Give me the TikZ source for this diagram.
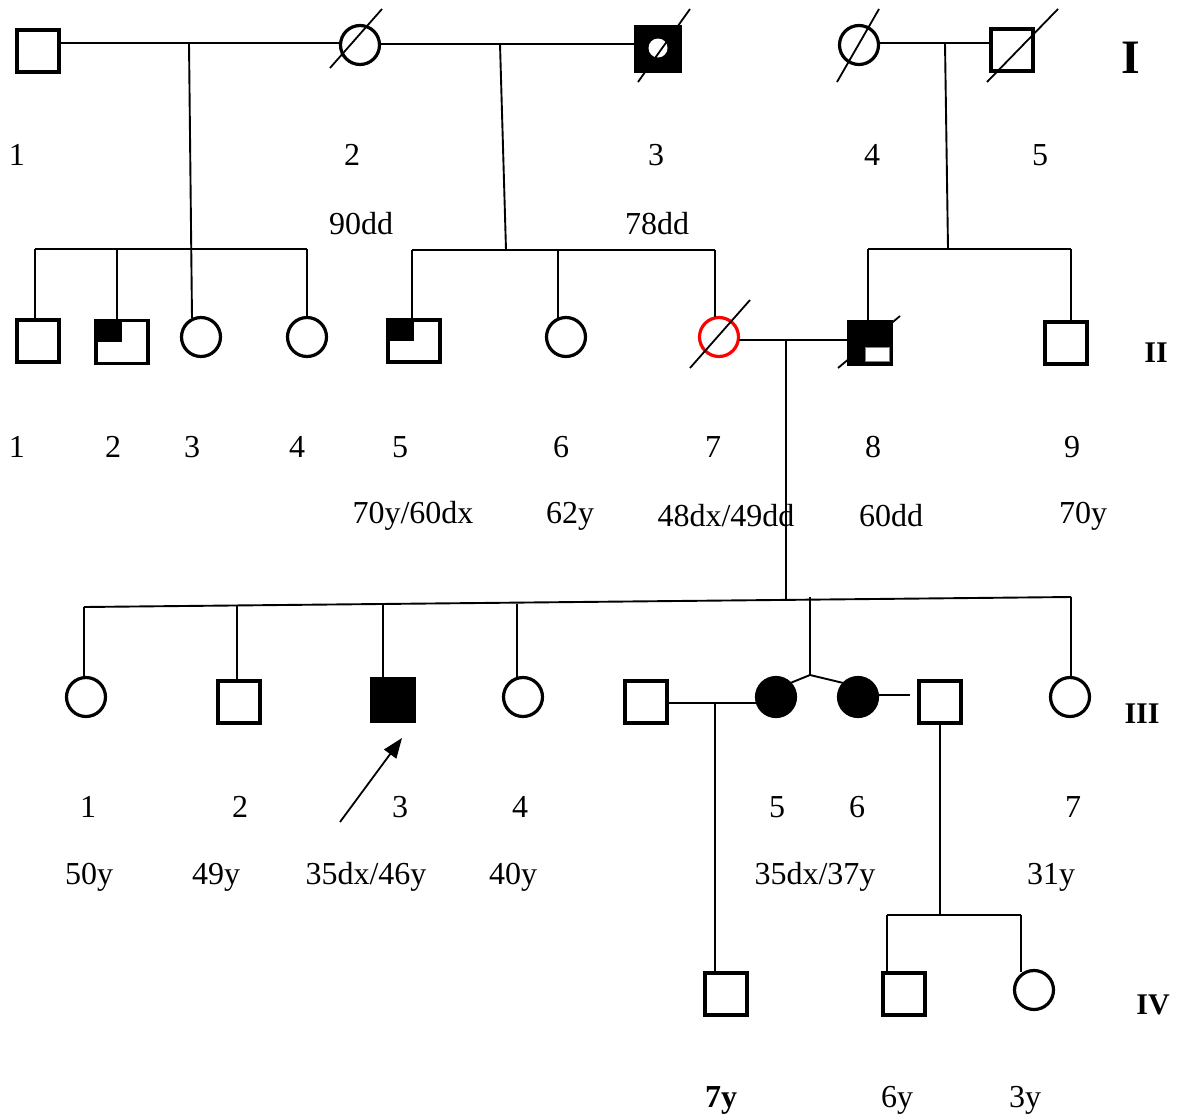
\documentclass[tikz,border=0pt]{standalone}
\usepackage{fontspec}
\setmainfont{Liberation Serif}
\usetikzlibrary{arrows.meta, calc}
\definecolor{pedred}{HTML}{FF0000}

\begin{document}
\begin{tikzpicture}[x=1pt, y=-1pt,
  male/.style={draw, rectangle, line width=3.2pt, minimum size=42pt, inner sep=0pt, outer sep=0pt},
  female/.style={draw, circle, line width=3.2pt, minimum size=39pt, inner sep=0pt, outer sep=0pt},
  affected/.style={fill=black},
  link/.style={line width=1.9pt},
  slash/.style={line width=1.8pt},
  pointer/.style={-{Triangle[length=20pt, width=15pt]}, line width=1.8pt},
  lbl/.style={font=\fontsize{32}{38}\selectfont, inner sep=0pt},
  gen/.style={font=\fontsize{30}{36}\selectfont\bfseries, inner sep=0pt}]
  \useasboundingbox (0,0) rectangle (1177,1119);

  % generation I
  \node[male] (i1) at (38,51) {};
  \node[female] (i2) at (360,45) {};
  \node[male, affected, minimum size=45pt] (i3) at (658,49) {};
  \node[circle, fill=white, minimum size=19pt, inner sep=0pt] (i3c) at (658,48) {};
  \node[female] (i4) at (859,45) {};
  \node[male] (i5) at (1012,50) {};
  \draw[slash] ($(i2)+(-30,23)$) -- ($(i2)+(22,-36)$);
  \draw[slash] ($(i3)+(-20,33)$) -- ($(i3)+(32,-40)$);
  \draw[slash] ($(i4)+(-22,37)$) -- ($(i4)+(20,-36)$);
  \draw[slash] ($(i5)+(-25,32)$) -- ($(i5)+(46,-41)$);

  \coordinate (m12) at (189,43);
  \coordinate (m23) at (500,44);
  \coordinate (m45) at (945,43);
  \draw[link] (i1.east |- m12) -- (i2.west |- m12);
  \draw[link] (i2.east |- m23) -- (i3.west |- m23);
  \draw[link] (i4.east |- m45) -- (i5.west |- m45);

  \node[lbl] (n11) at (17,155) {1};
  \node[lbl] (n12) at (352,155) {2};
  \node[lbl] (n13) at (656,155) {3};
  \node[lbl] (n14) at (872,155) {4};
  \node[lbl] (n15) at (1040,155) {5};
  \node[lbl] (a12) at (361,224) {90dd};
  \node[lbl] (a13) at (657,224) {78dd};
  \node[font=\fontsize{48}{56}\selectfont\bfseries, inner sep=0pt] (g1) at (1131,58) {I};

  % generation II
  \node[male] (ii1) at (38,341) {};
  \node[male, minimum width=52pt, minimum height=43pt] (ii2) at (122,342) {};
  \fill (ii2.north west) rectangle (ii2.center);
  \node[female] (ii3) at (201,337) {};
  \node[female] (ii4) at (307,337) {};
  \node[male, minimum width=52pt, minimum height=42pt] (ii5) at (414,341) {};
  \fill (ii5.north west) rectangle (ii5.center);
  \node[female] (ii6) at (566,337) {};
  \node[female, draw=pedred] (ii7) at (719,337) {};
  \node[male, affected, minimum size=43pt] (ii8) at (870,343) {};
  \draw[fill=white, draw=gray, line width=0.8pt] (865,347) rectangle (889,361);
  \node[male] (ii9) at (1066,343) {};
  \draw[slash] ($(ii7)+(-29,31)$) -- ($(ii7)+(31,-37)$);
  \draw[slash] ($(ii8)+(-32,25)$) -- ($(ii8)+(30,-27)$);

  \coordinate (s12) at (35,249);
  \coordinate (s23) at (412,250);
  \coordinate (s45) at (868,249);
  \draw[link] (s12) -- (307,249);
  \draw[link] (m12) -- (192,318);
  \draw[link] (s12) -- (ii1.north -| s12);
  \draw[link] (117,249) -- (ii2.north -| 117,0);
  \draw[link] (307,249) -- (ii4.north);
  \draw[link] (m23) -- (506,250);
  \draw[link] (s23) -- (715,250);
  \draw[link] (s23) -- (ii5.north -| s23);
  \draw[link] (558,250) -- (558,318);
  \draw[link] (715,250) -- (715,317);
  \draw[link] (m45) -- (948,249);
  \draw[link] (s45) -- (1071,249);
  \draw[link] (s45) -- (ii8.north -| s45);
  \draw[link] (1071,249) -- (1071,322);

  \coordinate (m78) at (786,340);
  \draw[link] (ii7.east |- m78) -- (ii8.west |- m78);

  \node[lbl] (n21) at (17,447) {1};
  \node[lbl] (n22) at (113,447) {2};
  \node[lbl] (n23) at (192,447) {3};
  \node[lbl] (n24) at (297,447) {4};
  \node[lbl] (n25) at (400,447) {5};
  \node[lbl] (n26) at (561,447) {6};
  \node[lbl] (n27) at (713,447) {7};
  \node[lbl] (n28) at (873,447) {8};
  \node[lbl] (n29) at (1072,447) {9};
  \node[lbl] (a25) at (413,516) {70y/60dx};
  \node[lbl] (a26) at (570,516) {62y};
  \node[lbl] (a27) at (726,516) {48dx/49dd};
  \node[lbl] (a28) at (891,516) {60dd};
  \node[lbl] (a29) at (1083,516) {70y};
  \node[gen] (g2) at (1156,353) {II};

  % generation III
  \node[female] (iii1) at (86,697) {};
  \node[male] (iii2) at (239,702) {};
  \node[male, affected] (iii3) at (393,700) {};
  \node[female] (iii4) at (523,697) {};
  \node[male] (iii5s) at (646,702) {};
  \node[female, affected] (iii5) at (776,697) {};
  \node[female, affected] (iii6) at (858,697) {};
  \node[male] (iii6s) at (940,702) {};
  \node[female] (iii7) at (1070,697) {};

  \coordinate (s78a) at (84,607);
  \coordinate (s78b) at (1071,597);
  \draw[link] (m78) -- (786,599);
  \draw[link] (s78a) -- (s78b);
  \draw[link] (s78a) -- (iii1.north -| s78a);
  \draw[link] (237,606) -- (237,682);
  \draw[link] (383,605) -- (383,679);
  \draw[link] (517,604) -- (517,678);
  \draw[link] (s78b) -- (iii7.north -| s78b);
  \coordinate (twin) at (810,675);
  \draw[link] (810,597) -- (twin);
  \draw[link] (twin) -- (iii5.north east);
  \draw[link] (twin) -- (iii6.north west);

  \coordinate (m35) at (715,703);
  \coordinate (m36) at (940,723);
  \draw[link] (iii5s.east |- m35) -- (iii5.west |- m35);
  \draw[link] (iii6.east |- 0,695) -- (910,695);
  \draw[pointer] (340,822) -- (402,738);

  \node[lbl] (n31) at (88,807) {1};
  \node[lbl] (n32) at (240,807) {2};
  \node[lbl] (n33) at (400,807) {3};
  \node[lbl] (n34) at (520,807) {4};
  \node[lbl] (n35) at (777,807) {5};
  \node[lbl] (n36) at (857,807) {6};
  \node[lbl] (n37) at (1073,807) {7};
  \node[lbl] (a31) at (89,877) {50y};
  \node[lbl] (a32) at (216,877) {49y};
  \node[lbl] (a33) at (366,877) {35dx/46y};
  \node[lbl] (a34) at (513,877) {40y};
  \node[lbl] (a35) at (815,877) {35dx/37y};
  \node[lbl] (a37) at (1051,877) {31y};
  \node[gen] (g3) at (1142,714) {III};

  % generation IV
  \node[male] (iv1) at (726,994) {};
  \node[male] (iv2) at (904,994) {};
  \node[female] (iv3) at (1034,990) {};
  \coordinate (s36) at (887,915);
  \draw[link] (m35) -- (iv1.north -| m35);
  \draw[link] (m36) -- (940,915);
  \draw[link] (s36) -- (1021,915);
  \draw[link] (s36) -- (iv2.north -| s36);
  \draw[link] (1021,915) -- (1021,972);

  \node[lbl, font=\fontsize{32}{38}\selectfont\bfseries] (a41) at (721,1100) {7y};
  \node[lbl] (a42) at (897,1100) {6y};
  \node[lbl] (a43) at (1025,1100) {3y};
  \node[gen] (g4) at (1153,1005) {IV};
\end{tikzpicture}
\end{document}
